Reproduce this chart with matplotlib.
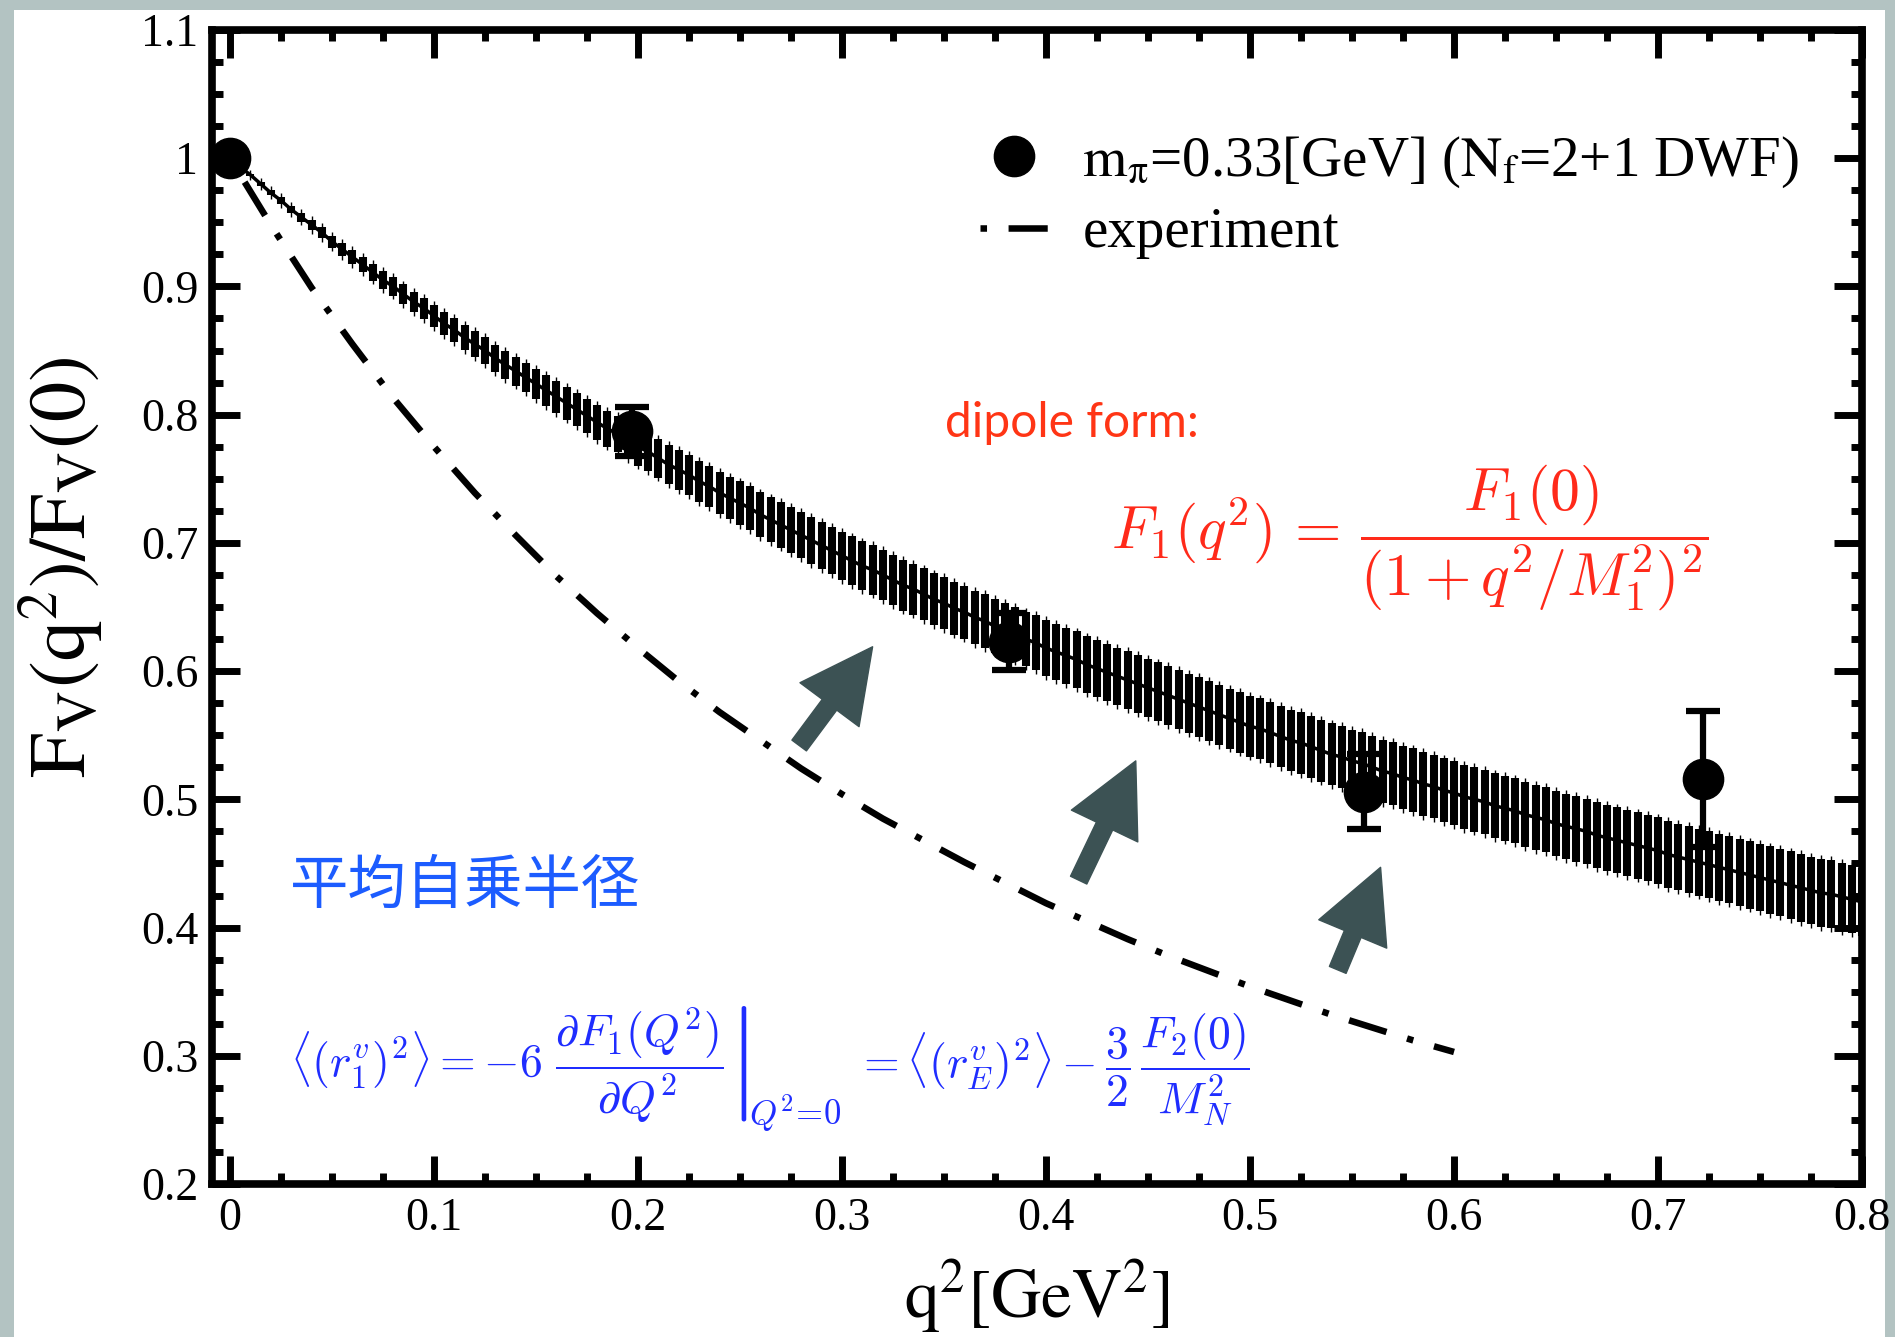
"""Vector form factor F_V(q^2)/F_V(0): lattice points, dipole fit band, experiment."""

import matplotlib

matplotlib.use("Agg")
import matplotlib.pyplot as plt
import numpy as np
from matplotlib.lines import Line2D
from matplotlib.patches import Rectangle
from matplotlib.ticker import FuncFormatter, MultipleLocator

plt.rcParams.update({
    "font.family": ["Liberation Serif", "DejaVu Serif"],
    "mathtext.fontset": "stix",
    "axes.linewidth": 5.5,
    "xtick.direction": "in",
    "ytick.direction": "in",
})

# Палитра
COL_BG = "#b3c3c2"
COL_ARROW = "#3c5254"
COL_RED = "#ff2a1a"
COL_RED_TXT = "#ff3515"
COL_BLUE = "#1f2dff"
COL_BLUE_JP = "#1c5cff"

# --- lattice data points ---
lat_q2 = [0.0, 0.197, 0.382, 0.556, 0.722]
lat_f = [1.0, 0.787, 0.623, 0.506, 0.516]
lat_err = [0.0, 0.019, 0.022, 0.029, 0.053]

# --- dipole fit band (step 0.005 in q^2) ---
fit_q2 = np.linspace(0.0, 0.8, 161)
fit_center = [
    1.000, 0.993, 0.987, 0.980, 0.973, 0.967, 0.960, 0.954, 0.948, 0.942,
    0.935, 0.929, 0.923, 0.917, 0.911, 0.905, 0.900, 0.894, 0.888, 0.883,
    0.877, 0.871, 0.866, 0.860, 0.855, 0.850, 0.844, 0.839, 0.834, 0.829,
    0.824, 0.819, 0.814, 0.809, 0.804, 0.799, 0.794, 0.789, 0.785, 0.780,
    0.775, 0.771, 0.766, 0.761, 0.757, 0.753, 0.748, 0.744, 0.739, 0.735,
    0.731, 0.727, 0.722, 0.718, 0.714, 0.710, 0.706, 0.702, 0.698, 0.694,
    0.690, 0.686, 0.682, 0.679, 0.675, 0.671, 0.667, 0.664, 0.660, 0.656,
    0.653, 0.649, 0.646, 0.642, 0.639, 0.635, 0.632, 0.629, 0.625, 0.622,
    0.618, 0.615, 0.612, 0.609, 0.605, 0.602, 0.599, 0.596, 0.593, 0.590,
    0.587, 0.584, 0.581, 0.578, 0.575, 0.572, 0.569, 0.566, 0.563, 0.560,
    0.557, 0.555, 0.552, 0.549, 0.546, 0.544, 0.541, 0.538, 0.535, 0.533,
    0.530, 0.528, 0.525, 0.522, 0.520, 0.517, 0.515, 0.512, 0.510, 0.507,
    0.505, 0.502, 0.500, 0.498, 0.495, 0.493, 0.491, 0.488, 0.486, 0.484,
    0.481, 0.479, 0.477, 0.475, 0.472, 0.470, 0.468, 0.466, 0.464, 0.462,
    0.460, 0.457, 0.455, 0.453, 0.451, 0.449, 0.447, 0.445, 0.443, 0.441,
    0.439, 0.437, 0.435, 0.433, 0.431, 0.429, 0.427, 0.426, 0.424, 0.422,
    0.420,
]
fit_err = [
    0.0000, 0.0005, 0.0010, 0.0015, 0.0020, 0.0025, 0.0029, 0.0034, 0.0039, 0.0043,
    0.0047, 0.0052, 0.0056, 0.0060, 0.0064, 0.0068, 0.0072, 0.0076, 0.0079, 0.0083,
    0.0087, 0.0090, 0.0094, 0.0097, 0.0100, 0.0104, 0.0107, 0.0110, 0.0113, 0.0116,
    0.0119, 0.0122, 0.0125, 0.0128, 0.0131, 0.0134, 0.0136, 0.0139, 0.0141, 0.0144,
    0.0147, 0.0149, 0.0151, 0.0154, 0.0156, 0.0158, 0.0161, 0.0163, 0.0165, 0.0167,
    0.0169, 0.0171, 0.0173, 0.0175, 0.0177, 0.0179, 0.0181, 0.0183, 0.0184, 0.0186,
    0.0188, 0.0190, 0.0191, 0.0193, 0.0194, 0.0196, 0.0198, 0.0199, 0.0201, 0.0202,
    0.0203, 0.0205, 0.0206, 0.0208, 0.0209, 0.0210, 0.0212, 0.0213, 0.0214, 0.0215,
    0.0216, 0.0218, 0.0219, 0.0220, 0.0221, 0.0222, 0.0223, 0.0224, 0.0225, 0.0226,
    0.0227, 0.0228, 0.0229, 0.0230, 0.0231, 0.0232, 0.0233, 0.0234, 0.0234, 0.0235,
    0.0236, 0.0237, 0.0238, 0.0238, 0.0239, 0.0240, 0.0241, 0.0241, 0.0242, 0.0243,
    0.0244, 0.0244, 0.0245, 0.0246, 0.0246, 0.0247, 0.0247, 0.0248, 0.0249, 0.0249,
    0.0250, 0.0250, 0.0251, 0.0251, 0.0252, 0.0252, 0.0253, 0.0253, 0.0254, 0.0254,
    0.0255, 0.0255, 0.0256, 0.0256, 0.0257, 0.0257, 0.0257, 0.0258, 0.0258, 0.0259,
    0.0259, 0.0259, 0.0260, 0.0260, 0.0261, 0.0261, 0.0261, 0.0262, 0.0262, 0.0262,
    0.0263, 0.0263, 0.0263, 0.0264, 0.0264, 0.0264, 0.0264, 0.0265, 0.0265, 0.0265,
    0.0266,
]

# --- experiment (dash-dot curve) ---
exp_q2 = [0.00, 0.02, 0.04, 0.06, 0.08, 0.10, 0.12, 0.14, 0.16, 0.18, 0.20,
          0.22, 0.24, 0.26, 0.28, 0.30, 0.32, 0.34, 0.36, 0.38, 0.40,
          0.42, 0.44, 0.46, 0.48, 0.50, 0.52, 0.54, 0.56, 0.58, 0.60]
exp_f = [1.000, 0.948, 0.899, 0.855, 0.813, 0.775, 0.739, 0.706, 0.674, 0.645,
         0.618, 0.592, 0.568, 0.546, 0.524, 0.504, 0.485, 0.468, 0.451, 0.435,
         0.419, 0.405, 0.391, 0.378, 0.366, 0.354, 0.343, 0.332, 0.322, 0.312,
         0.303]

# стрелки: (хвост, острие) в координатах данных
arrows = [
    ((0.279, 0.542), (0.315, 0.619)),
    ((0.416, 0.437), (0.444, 0.530)),
    ((0.543, 0.367), (0.564, 0.447)),
]

DASHDOT = (9.3, (6, 3.3, 1, 3.3))

fig = plt.figure(figsize=(18.95, 13.37), dpi=100)
fig.patch.set_facecolor(COL_BG)
fig.add_artist(Rectangle((0.0074, 0.0), 0.9873, 0.9925, transform=fig.transFigure,
                         facecolor="white", edgecolor="none", zorder=-10))

ax = fig.add_axes([0.1119, 0.1144, 0.8707, 0.8632])
ax.set_facecolor("white")

# полоса фита: толстые бары + тонкие усики + центральная линия
ax.errorbar(fit_q2, fit_center, yerr=np.array(fit_err) + 0.003, fmt="none",
            ecolor="black", elinewidth=1.0, zorder=3)
ax.errorbar(fit_q2, fit_center, yerr=fit_err, fmt="none",
            ecolor="black", elinewidth=5.8, zorder=3)
ax.plot(fit_q2, fit_center, color="black", lw=2.5, zorder=3)

# эксперимент
ax.plot(exp_q2, exp_f, color="black", lw=4.7, linestyle=DASHDOT, zorder=2)

# решёточные точки
ax.errorbar(lat_q2, lat_f, yerr=lat_err, fmt="none", ecolor="black",
            elinewidth=4.5, capsize=12, capthick=4.5, zorder=4)
ax.plot(lat_q2, lat_f, "o", color="black", ms=29, zorder=5)

for tail, tip in arrows:
    ax.annotate("", xy=tip, xytext=tail,
                arrowprops=dict(arrowstyle="simple,head_length=1.04,head_width=1.06,tail_width=0.26",
                                mutation_scale=50, color=COL_ARROW,
                                shrinkA=0, shrinkB=0), zorder=6)

ax.set_xlim(-0.0088, 0.8)
ax.set_ylim(0.2, 1.1)
ax.xaxis.set_major_locator(MultipleLocator(0.1))
ax.xaxis.set_minor_locator(MultipleLocator(0.025))
ax.yaxis.set_major_locator(MultipleLocator(0.1))
ax.yaxis.set_minor_locator(MultipleLocator(0.025))
fmt = FuncFormatter(lambda v, _: f"{v:g}")
ax.xaxis.set_major_formatter(fmt)
ax.yaxis.set_major_formatter(fmt)
ax.tick_params(which="both", top=True, right=True, width=5, labelsize=33, pad=10)
ax.tick_params(which="major", length=20)
ax.tick_params(which="minor", length=8)

ax.set_xlabel(r"$\mathrm{q^2[GeV^2]}$", fontsize=50, labelpad=12)
ax.set_ylabel(r"$\mathrm{F_V(q^2)/F_V(0)}$", fontsize=58)
ax.yaxis.set_label_coords(-0.064, 0.535)

leg_handles = [
    Line2D([], [], marker="o", color="black", ms=29, linestyle="none"),
    Line2D([], [], color="black", lw=4.7, linestyle=DASHDOT),
]
ax.legend(leg_handles,
          [r"$\mathrm{m_{\pi}}$=0.33[GeV] ($\mathrm{N_f}$=2+1 DWF)", "experiment"],
          loc="upper right", bbox_to_anchor=(0.962, 0.909), frameon=False,
          fontsize=41, handlelength=1.2, handletextpad=0.6, labelspacing=0.3,
          borderpad=0, borderaxespad=0)

ax.text(0.444, 0.647, "dipole form:", transform=ax.transAxes, color=COL_RED_TXT,
        fontsize=34.5, family=["Lato", "DejaVu Sans"], ha="left", va="baseline")
ax.text(0.726, 0.560, r"$F_1(q^2)\,=\,\dfrac{F_1(0)}{(1+q^2/M_1^2)^2}$",
        transform=ax.transAxes, color=COL_RED, fontsize=43, math_fontfamily="cm",
        ha="center", va="center")
ax.text(0.047, 0.258, "平均自乗半径", transform=ax.transAxes, color=COL_BLUE_JP,
        fontsize=42, family=["Noto Sans CJK JP", "DejaVu Sans"],
        ha="left", va="center")

# формула радиуса: три куска, чтобы индекс Q^2=0 стоял внизу черты
rad_a = ax.text(0.047, 0.092,
                r"$\langle(r_1^v)^2\rangle = -6\ \left.\dfrac{\partial F_1(Q^2)}{\partial Q^2}\right|$",
                transform=ax.transAxes, color=COL_BLUE, fontsize=33,
                math_fontfamily="cm", ha="left", va="baseline")
rad_s = ax.annotate(r"$Q^2\!=\!0$", xy=(1, 0), xycoords=rad_a,
                    xytext=(1, -6), textcoords="offset points",
                    color=COL_BLUE, fontsize=25, math_fontfamily="cm",
                    ha="left", va="bottom")
ax.annotate(r"$= \langle(r_E^v)^2\rangle - \dfrac{3}{2}\,\dfrac{F_2(0)}{M_N^2}$",
            xy=(1, 0.092), xycoords=(rad_s, "axes fraction"),
            xytext=(10, 0), textcoords="offset points",
            color=COL_BLUE, fontsize=33, math_fontfamily="cm",
            ha="left", va="baseline")

fig.savefig("out.png", dpi=100, facecolor=fig.get_facecolor())
